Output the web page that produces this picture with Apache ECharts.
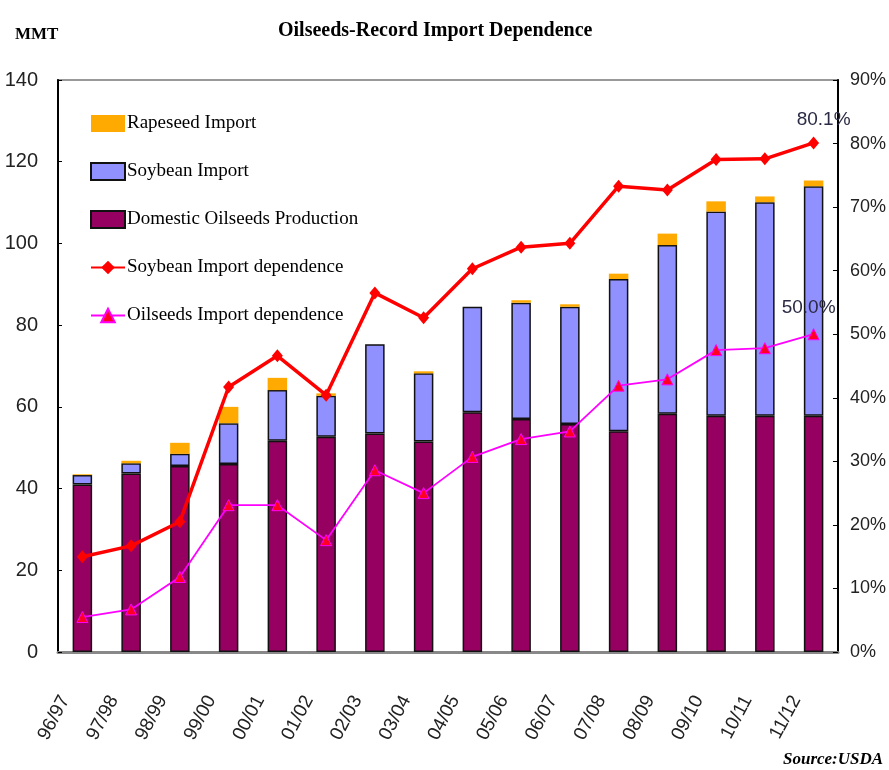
<!DOCTYPE html>
<html>
<head>
<meta charset="utf-8">
<title>Oilseeds-Record Import Dependence</title>
<script src="https://cdn.jsdelivr.net/npm/echarts@6/dist/echarts.min.js"></script>
<style>
  html, body { margin: 0; padding: 0; background: #fff; }
  #main { width: 889px; height: 770px; }
</style>
</head>
<body>
<div id="main"></div>
<script>
const categories = ["96/97", "97/98", "98/99", "99/00", "00/01", "01/02", "02/03", "03/04",
  "04/05", "05/06", "06/07", "07/08", "08/09", "09/10", "10/11", "11/12"]
// MMT
const domestic = [41.0, 43.7, 45.5, 46.0, 51.7, 52.7, 53.5, 51.5, 58.7, 57.0, 55.8, 54.0, 58.3, 57.8, 57.8, 57.8]
const soybean = [2.3, 2.5, 3.0, 10.0, 12.4, 10.0, 21.8, 16.7, 25.8, 28.5, 28.7, 37.3, 41.3, 50.0, 52.3, 56.2]
const rapeseed = [0.2, 0.6, 2.7, 4.0, 3.0, 0.6, 0, 0.5, 0, 0.6, 0.6, 1.3, 2.8, 2.5, 1.4, 1.4]
// percent
const soyDependence = [15.0, 16.7, 20.5, 41.7, 46.6, 40.4, 56.5, 52.6, 60.3, 63.7, 64.3, 73.3, 72.7, 77.5, 77.6, 80.1]
const oilDependence = [5.5, 6.7, 11.8, 23.1, 23.1, 17.6, 28.6, 25.0, 30.7, 33.5, 34.7, 41.9, 42.9, 47.5, 47.8, 50.0]
const leftTicks = [0, 20, 40, 60, 80, 100, 120, 140]
const rightTicks = [0, 10, 20, 30, 40, 50, 60, 70, 80, 90]

const sans = '"Liberation Sans", Arial, sans-serif'
const serif = '"Liberation Serif", "DejaVu Serif", serif'

// label only the last point of a line
function lastLabeled(arr, offset) {
  return arr.map((v, i) => {
    if (i < arr.length - 1) return v
    return {
      value: v,
      label: {
        show: true,
        position: "top",
        offset: offset,
        formatter: v.toFixed(1) + "%",
        fontFamily: sans,
        fontSize: 19,
        color: "#2b2b45",
      },
    }
  })
}

let chart = echarts.init(document.getElementById("main"))
let option = {
  animation: false,
  backgroundColor: "#fff",
  title: [
    {
      text: "Oilseeds-Record Import Dependence",
      left: 273,
      top: 16,
      textStyle: { fontFamily: serif, fontWeight: "bold", fontSize: 20, color: "#000" },
    },
    {
      text: "MMT",
      left: 10,
      top: 21,
      textStyle: { fontFamily: serif, fontWeight: "bold", fontSize: 17, color: "#000" },
    },
    {
      text: "Source:USDA",
      left: 778,
      top: 746,
      textStyle: { fontFamily: serif, fontWeight: "bold", fontStyle: "italic", fontSize: 17, color: "#000" },
    },
  ],
  legend: {
    orient: "vertical",
    left: 85,
    top: 109,
    itemWidth: 34,
    itemHeight: 17,
    itemGap: 29,
    data: [
      { name: "Rapeseed Import", icon: "rect" },
      { name: "Soybean Import", icon: "rect" },
      { name: "Domestic Oilseeds Production", icon: "rect" },
      "Soybean Import dependence",
      "Oilseeds Import dependence",
    ],
    textStyle: { fontFamily: serif, fontSize: 19, color: "#000", padding: [0, 0, 0, -3] },
  },
  grid: {
    left: 58,
    right: 49,
    top: 80,
    bottom: 118,
    show: true,
    borderColor: "#999",
    borderWidth: 2,
  },
  xAxis: {
    type: "category",
    data: categories,
    axisLine: { lineStyle: { color: "#888", width: 3 } },
    axisTick: { inside: true, length: 7, lineStyle: { color: "#333" } },
    axisLabel: {
      interval: 0,
      rotate: 62,
      margin: 54,
      verticalAlign: "bottom",
      padding: [0, 0, 10, 0],
      fontFamily: sans,
      fontSize: 19,
      color: "#222",
    },
  },
  yAxis: [
    {
      type: "value",
      min: leftTicks[0],
      max: leftTicks[leftTicks.length - 1],
      interval: 20,
      splitLine: { show: false },
      axisLine: { show: true, lineStyle: { color: "#000", width: 2 } },
      axisTick: { show: true, inside: true, length: 4, lineStyle: { color: "#000" } },
      axisLabel: { margin: 20, fontFamily: sans, fontSize: 20, color: "#222" },
    },
    {
      type: "value",
      min: rightTicks[0],
      max: rightTicks[rightTicks.length - 1],
      interval: 10,
      splitLine: { show: false },
      axisLine: { show: true, lineStyle: { color: "#000", width: 2 } },
      axisTick: { show: true, inside: true, length: 5, lineStyle: { color: "#000" } },
      axisLabel: { margin: 12, formatter: "{value}%", fontFamily: sans, fontSize: 18, color: "#222" },
    },
  ],
  series: [
    {
      name: "Domestic Oilseeds Production",
      type: "bar",
      stack: "total",
      barWidth: "40%",
      itemStyle: { color: "#960060", borderColor: "#111", borderWidth: 1.5 },
      data: domestic,
    },
    {
      name: "Soybean Import",
      type: "bar",
      stack: "total",
      barWidth: "40%",
      itemStyle: { color: "#9090ff", borderColor: "#111", borderWidth: 1.5 },
      data: soybean,
    },
    {
      name: "Rapeseed Import",
      type: "bar",
      stack: "total",
      barWidth: "40%",
      itemStyle: { color: "#ffaa00", borderWidth: 0 },
      data: rapeseed,
    },
    {
      name: "Soybean Import dependence",
      type: "line",
      yAxisIndex: 1,
      symbol: "diamond",
      symbolSize: [11, 13],
      lineStyle: { color: "#ff0000", width: 3.5 },
      itemStyle: { color: "#ff0000" },
      data: lastLabeled(soyDependence, [10, -2]),
    },
    {
      name: "Oilseeds Import dependence",
      type: "line",
      yAxisIndex: 1,
      symbol: "triangle",
      symbolSize: 11,
      lineStyle: { color: "#ff00ff", width: 1.8 },
      itemStyle: { color: "#ff0022", borderColor: "#ff00ff", borderWidth: 1 },
      data: lastLabeled(oilDependence, [-5, -6]),
    },
  ],
}
chart.setOption(option)
</script>
</body>
</html>
